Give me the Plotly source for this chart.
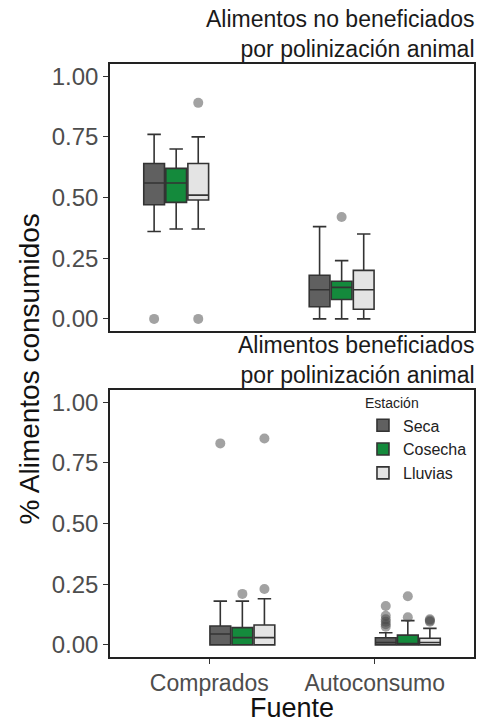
import plotly.graph_objects as go

categories = ["Comprados", "Autoconsumo"]
seasons = ["Seca", "Cosecha", "Lluvias"]
fill_colors = {"Seca": "#606060", "Cosecha": "#148a3c", "Lluvias": "#e4e4e4"}

# Panel A: Alimentos no beneficiados por polinización animal
A_lower = {"Seca": [0.36, 0.00], "Cosecha": [0.37, 0.00], "Lluvias": [0.37, 0.00]}
A_q1 = {"Seca": [0.47, 0.05], "Cosecha": [0.48, 0.08], "Lluvias": [0.49, 0.04]}
A_median = {"Seca": [0.56, 0.12], "Cosecha": [0.56, 0.13], "Lluvias": [0.51, 0.12]}
A_q3 = {"Seca": [0.64, 0.18], "Cosecha": [0.62, 0.155], "Lluvias": [0.64, 0.20]}
A_upper = {"Seca": [0.76, 0.38], "Cosecha": [0.70, 0.24], "Lluvias": [0.75, 0.35]}
A_out = {"Seca": [[0.0], [None]], "Cosecha": [[None], [0.42]], "Lluvias": [[0.0, 0.89], [None]]}

# Panel B: Alimentos beneficiados por polinización animal
B_lower = {"Seca": [0.0, 0.0], "Cosecha": [0.0, 0.0], "Lluvias": [0.0, 0.0]}
B_q1 = {"Seca": [0.0, 0.0], "Cosecha": [0.0, 0.0], "Lluvias": [0.0, 0.0]}
B_median = {"Seca": [0.045, 0.01], "Cosecha": [0.03, 0.005], "Lluvias": [0.03, 0.01]}
B_q3 = {"Seca": [0.078, 0.029], "Cosecha": [0.071, 0.04], "Lluvias": [0.082, 0.027]}
B_upper = {"Seca": [0.18, 0.05], "Cosecha": [0.18, 0.10], "Lluvias": [0.19, 0.068]}
B_out = {"Seca": [[0.83], [0.075, 0.085, 0.095, 0.105, 0.12, 0.16]],
         "Cosecha": [[0.21], [0.114, 0.20]],
         "Lluvias": [[0.23, 0.85], [0.095, 0.10, 0.105]]}

y_ticks = [0.0, 0.25, 0.5, 0.75, 1.0]
y_ticklabels = ["0.00", "0.25", "0.50", "0.75", "1.00"]

FONT = "Liberation Sans, Arial, sans-serif"
fig = go.Figure()

panels = [
    ("x", "y", A_lower, A_q1, A_median, A_q3, A_upper, A_out, False),
    ("x2", "y2", B_lower, B_q1, B_median, B_q3, B_upper, B_out, True),
]
for xa, ya, lo, q1, md, q3, up, out, show in panels:
    for s in seasons:
        fig.add_trace(go.Box(
            x=categories, q1=q1[s], median=md[s], q3=q3[s],
            lowerfence=lo[s], upperfence=up[s], y=out[s],
            name=s, showlegend=show,
            fillcolor=fill_colors[s],
            line=dict(color="#333333", width=1.6),
            whiskerwidth=0.65,
            boxpoints="outliers", jitter=0, pointpos=0,
            marker=dict(color="rgba(70,70,70,0.5)", size=10, line=dict(width=0)),
            xaxis=xa, yaxis=ya,
        ))

axis_common = dict(showline=True, mirror=True, linecolor="#222222", linewidth=1.5,
                   showgrid=False, zeroline=False)
yax = dict(axis_common, range=[-0.05, 1.05], tickvals=y_ticks, ticktext=y_ticklabels,
           ticks="outside", ticklen=5, tickcolor="#333333",
           tickfont=dict(family=FONT, size=24, color="#4d4d4d"))
xax = dict(axis_common, type="category", categoryorder="array", categoryarray=categories,
           range=[-0.6, 1.6])

fig.update_layout(
    width=482, height=724,
    margin=dict(l=110, r=6, t=64, b=67),
    paper_bgcolor="white", plot_bgcolor="white",
    boxmode="group", boxgap=0.2, boxgroupgap=0.06,
    xaxis=dict(xax, domain=[0, 1], anchor="y", showticklabels=False, ticks=""),
    yaxis=dict(yax, domain=[0.5497, 1.0], anchor="x"),
    xaxis2=dict(xax, domain=[0, 1], anchor="y2", ticks="outside", ticklen=5,
                tickcolor="#333333",
                tickfont=dict(family=FONT, size=23, color="#4d4d4d")),
    yaxis2=dict(yax, domain=[0.0, 0.4503], anchor="x2"),
    legend=dict(title=dict(text="Estación", font=dict(family=FONT, size=14, color="#222")),
                font=dict(family=FONT, size=16, color="#222"),
                x=0.695, y=0.45, xanchor="left", yanchor="top",
                bgcolor="rgba(0,0,0,0)", tracegroupgap=0),
    font=dict(family=FONT),
)

fig.add_annotation(text="Alimentos no beneficiados<br>por polinización animal",
                   xref="paper", yref="paper", x=1.0, y=1.0, xanchor="right", yanchor="bottom",
                   align="right", showarrow=False, xshift=3,
                   font=dict(family=FONT, size=23, color="#1a1a1a"))
fig.add_annotation(text="Alimentos beneficiados<br>por polinización animal",
                   xref="paper", yref="paper", x=1.0, y=0.4503, xanchor="right", yanchor="bottom",
                   align="right", showarrow=False, xshift=3,
                   font=dict(family=FONT, size=23, color="#1a1a1a"))
fig.add_annotation(text="% Alimentos consumidos", textangle=-90,
                   xref="paper", yref="paper", x=0, y=0.485, xanchor="center", yanchor="middle",
                   xshift=-81, showarrow=False,
                   font=dict(family=FONT, size=28, color="#111"))
fig.add_annotation(text="Fuente",
                   xref="paper", yref="paper", x=0.5, y=0, xanchor="center", yanchor="middle",
                   yshift=-51, showarrow=False,
                   font=dict(family=FONT, size=27, color="#111"))

fig.write_html("out.html", config={"displayModeBar": False},
               post_script="document.body.style.margin='0';")
